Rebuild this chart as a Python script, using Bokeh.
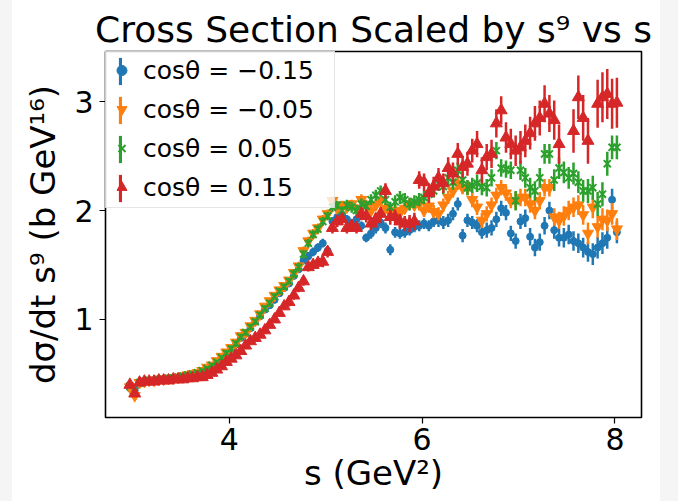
from bokeh.plotting import figure
from bokeh.models import Range1d, FixedTicker, Legend, LegendItem, Spacer, ColumnDataSource
from bokeh.layouts import row
from bokeh.embed import file_html
from bokeh.resources import INLINE

nan = float("nan")

s_values = [
    2.97, 3.02, 3.07, 3.12, 3.17, 3.22, 3.27, 3.32, 3.37, 3.42,
    3.47, 3.52, 3.57, 3.62, 3.67, 3.72, 3.77, 3.82, 3.87, 3.92,
    3.97, 4.02, 4.07, 4.12, 4.17, 4.22, 4.27, 4.32, 4.37, 4.42,
    4.47, 4.52, 4.57, 4.62, 4.67, 4.72, 4.77, 4.82, 4.87, 4.92,
    4.97, 5.02, 5.07, 5.12, 5.17, 5.22, 5.27, 5.32, 5.37, 5.42,
    5.47, 5.52, 5.57, 5.62, 5.67, 5.72, 5.77, 5.82, 5.87, 5.92,
    5.97, 6.02, 6.07, 6.12, 6.17, 6.22, 6.27, 6.32, 6.37, 6.42,
    6.47, 6.52, 6.57, 6.62, 6.67, 6.72, 6.77, 6.82, 6.87, 6.92,
    6.97, 7.02, 7.07, 7.12, 7.17, 7.22, 7.27, 7.32, 7.37, 7.42,
    7.47, 7.52, 7.57, 7.62, 7.67, 7.72, 7.77, 7.82, 7.87, 7.92,
    7.97, 8.02,
]

# cos(theta) = -0.15
blue_y = [
    0.37, 0.35, 0.41, 0.43, 0.43, 0.44, 0.44, 0.45, 0.45, 0.46,
    0.46, 0.47, 0.48, 0.49, 0.50, 0.52, 0.54, 0.57, 0.60, 0.64,
    0.68, 0.72, 0.77, 0.83, 0.87, 0.92, 0.98, 1.03, 1.09, 1.13,
    1.18, 1.24, 1.29, 1.33, 1.40, 1.46, 1.54, 1.58, 1.62, 1.66,
    1.70, 1.63, 1.90, 1.94, 1.96, 1.92, 1.88, 1.92, 1.86, 1.75,
    1.79, 1.84, 1.89, 1.84, 1.64, 1.80, 1.79, 1.80, 1.82, 1.85,
    1.86, 1.88, 1.86, 1.90, 1.91, 1.89, 1.91, 1.97, 2.06, 1.77,
    1.91, 1.89, 1.86, 1.80, 1.82, 1.84, 1.92, 2.02, 1.98, 1.79,
    1.72, 1.90, 1.93, 1.76, 1.66, 1.71, 1.86, 2.00, 1.82, 1.75,
    1.75, 1.78, 1.72, 1.70, 1.66, 1.62, 1.60, 1.66, 1.70, 1.75,
    2.10, 1.80,
]
blue_err = [
    0.02, 0.02, 0.02, 0.02, 0.02, 0.02, 0.02, 0.02, 0.02, 0.02,
    0.02, 0.02, 0.02, 0.02, 0.02, 0.02, 0.02, 0.02, 0.02, 0.02,
    0.03, 0.03, 0.03, 0.03, 0.03, 0.03, 0.03, 0.03, 0.03, 0.03,
    0.03, 0.03, 0.03, 0.03, 0.03, 0.03, 0.03, 0.04, 0.04, 0.04,
    0.04, 0.04, 0.04, 0.04, 0.04, 0.04, 0.04, 0.04, 0.04, 0.04,
    0.05, 0.05, 0.05, 0.05, 0.05, 0.05, 0.05, 0.05, 0.05, 0.05,
    0.05, 0.05, 0.05, 0.05, 0.06, 0.06, 0.06, 0.06, 0.06, 0.06,
    0.06, 0.06, 0.06, 0.06, 0.07, 0.07, 0.07, 0.07, 0.07, 0.07,
    0.07, 0.07, 0.08, 0.08, 0.08, 0.08, 0.08, 0.08, 0.08, 0.08,
    0.09, 0.09, 0.09, 0.09, 0.09, 0.09, 0.10, 0.10, 0.10, 0.10,
    0.10, 0.10,
]

# cos(theta) = -0.05
orange_y = [
    0.38, 0.30, 0.42, 0.43, 0.44, 0.44, 0.45, 0.45, 0.46, 0.46,
    0.47, 0.48, 0.49, 0.50, 0.51, 0.53, 0.56, 0.58, 0.62, 0.66,
    0.70, 0.74, 0.79, 0.85, 0.88, 0.94, 0.99, 1.05, 1.12, 1.17,
    1.22, 1.27, 1.31, 1.36, 1.43, 1.49, 1.63, 1.72, 1.79, 1.84,
    1.92, 1.97, 2.09, 2.02, 2.05, 2.03, 2.06, 2.02, 2.10, 2.05,
    2.00, 2.05, 2.09, 2.02, 1.98, 2.00, 1.98, 2.02, 2.06, 2.05,
    2.06, 2.00, 2.04, 1.99, 1.97, 2.05, 2.12, 2.18, 2.25, 2.21,
    2.21, 2.10, 2.03, 1.91, 1.97, 2.05, 2.14, 2.21, 2.16, 2.09,
    2.09, 2.12, 2.12, 2.06, 2.00, 2.09, 2.21, 2.21, 1.94, 1.91,
    1.95, 2.00, 2.03, 2.05, 1.96, 1.79, 2.03, 1.85, 1.92, 1.91,
    1.97, 1.83,
]
orange_err = [
    0.02, 0.02, 0.02, 0.02, 0.02, 0.02, 0.02, 0.02, 0.02, 0.02,
    0.02, 0.02, 0.02, 0.02, 0.02, 0.02, 0.02, 0.02, 0.02, 0.02,
    0.03, 0.03, 0.03, 0.03, 0.03, 0.03, 0.03, 0.03, 0.03, 0.03,
    0.03, 0.03, 0.03, 0.03, 0.03, 0.04, 0.04, 0.04, 0.04, 0.04,
    0.04, 0.04, 0.04, 0.04, 0.04, 0.04, 0.04, 0.04, 0.05, 0.05,
    0.05, 0.05, 0.05, 0.05, 0.05, 0.05, 0.05, 0.05, 0.05, 0.05,
    0.06, 0.06, 0.06, 0.06, 0.06, 0.06, 0.06, 0.06, 0.06, 0.06,
    0.07, 0.07, 0.07, 0.07, 0.07, 0.07, 0.07, 0.07, 0.07, 0.07,
    0.08, 0.08, 0.08, 0.08, 0.08, 0.08, 0.08, 0.08, 0.08, 0.08,
    0.09, 0.09, 0.09, 0.09, 0.09, 0.10, 0.10, 0.10, 0.10, 0.10,
    0.10, 0.10,
]

# cos(theta) = 0.05
green_y = [
    0.39, 0.34, 0.42, 0.43, 0.44, 0.44, 0.45, 0.45, 0.46, 0.46,
    0.47, 0.48, 0.49, 0.50, 0.51, 0.53, 0.55, 0.58, 0.61, 0.65,
    0.69, 0.73, 0.78, 0.84, 0.88, 0.93, 0.98, 1.04, 1.10, 1.15,
    1.21, 1.26, 1.30, 1.35, 1.42, 1.48, 1.60, 1.70, 1.78, 1.83,
    1.90, 1.95, 2.03, 2.05, 2.00, 2.05, 2.03, 2.00, 2.06, 2.04,
    2.10, 2.14, 2.18, 2.10, 2.03, 2.08, 2.12, 2.10, 2.06, 2.08,
    2.10, 2.12, 2.15, 2.18, 2.25, 2.22, 2.30, 2.26, 2.37, 2.28,
    2.21, 2.23, 2.25, 2.22, 2.21, 2.30, 2.55, 2.39, 2.38, 2.37,
    2.09, 2.37, 2.30, 2.21, 2.18, 2.30, 2.52, 2.52, 2.28, 2.39,
    2.35, 2.30, 2.34, 2.26, 2.18, 2.18, 2.21, 2.06, 2.15, 2.43,
    2.58, 2.58,
]
green_err = [
    0.02, 0.02, 0.02, 0.02, 0.02, 0.02, 0.02, 0.02, 0.02, 0.02,
    0.02, 0.02, 0.02, 0.02, 0.02, 0.02, 0.02, 0.02, 0.02, 0.02,
    0.03, 0.03, 0.03, 0.03, 0.03, 0.03, 0.03, 0.03, 0.03, 0.03,
    0.03, 0.03, 0.03, 0.03, 0.04, 0.04, 0.04, 0.04, 0.04, 0.04,
    0.04, 0.04, 0.04, 0.04, 0.04, 0.05, 0.05, 0.05, 0.05, 0.05,
    0.05, 0.05, 0.05, 0.05, 0.05, 0.06, 0.06, 0.06, 0.06, 0.06,
    0.06, 0.06, 0.06, 0.06, 0.07, 0.07, 0.07, 0.07, 0.07, 0.07,
    0.07, 0.07, 0.08, 0.08, 0.08, 0.08, 0.08, 0.08, 0.08, 0.08,
    0.09, 0.09, 0.09, 0.09, 0.09, 0.09, 0.09, 0.09, 0.10, 0.10,
    0.10, 0.10, 0.10, 0.10, 0.10, 0.11, 0.11, 0.11, 0.11, 0.11,
    0.11, 0.11,
]

# cos(theta) = 0.15
red_y = [
    0.40, 0.32, 0.42, 0.43, 0.43, 0.43, 0.44, 0.44, 0.44, 0.45,
    0.45, 0.45, 0.46, 0.46, 0.47, 0.47, 0.49, 0.51, 0.54, 0.57,
    0.61, 0.64, 0.67, 0.71, 0.76, 0.80, 0.83, 0.86, 0.90, 0.95,
    1.00, 1.06, 1.12, 1.16, 1.22, 1.29, 1.35, 1.48, 1.50, 1.52,
    1.53, 1.62, 1.84, 1.90, 1.92, 1.84, 1.86, 1.84, 1.97, 1.95,
    1.88, 1.92, 1.97, 2.18, 1.94, 1.94, 1.90, 1.88, 1.88, 1.90,
    2.28, 2.26, 2.16, 2.22, 2.30, 2.25, 2.39, 2.34, 2.52, 2.40,
    2.43, 2.55, 2.61, 2.37, 2.49, 2.52, 2.80, 2.92, 2.67, 2.61,
    2.55, 2.58, 2.64, 2.71, 2.80, 2.85, 2.98, 2.89, 2.83, 2.61,
    nan, nan, 2.73, 3.04, 2.85, 2.64, nan, 2.98, 3.04, 3.07,
    2.98, 2.99,
]
red_err = [
    0.02, 0.02, 0.02, 0.02, 0.02, 0.02, 0.02, 0.02, 0.02, 0.02,
    0.02, 0.02, 0.02, 0.02, 0.02, 0.02, 0.02, 0.02, 0.02, 0.02,
    0.03, 0.03, 0.03, 0.03, 0.03, 0.03, 0.03, 0.03, 0.03, 0.03,
    0.03, 0.03, 0.03, 0.04, 0.04, 0.04, 0.04, 0.04, 0.04, 0.04,
    0.05, 0.05, 0.05, 0.05, 0.05, 0.05, 0.05, 0.05, 0.06, 0.06,
    0.06, 0.06, 0.06, 0.07, 0.07, 0.07, 0.07, 0.07, 0.08, 0.08,
    0.08, 0.08, 0.09, 0.09, 0.09, 0.09, 0.10, 0.10, 0.10, 0.10,
    0.11, 0.11, 0.12, 0.12, 0.12, 0.13, 0.13, 0.13, 0.14, 0.14,
    0.14, 0.15, 0.15, 0.15, 0.16, 0.16, 0.17, 0.17, 0.18, 0.18,
    0.19, 0.19, 0.20, 0.20, 0.21, 0.21, 0.22, 0.22, 0.23, 0.23,
    0.23, 0.23,
]

series_labels = ["cosθ = −0.15", "cosθ = −0.05", "cosθ = 0.05", "cosθ = 0.15"]
series_colors = ["#1f77b4", "#ff7f0e", "#2ca02c", "#d62728"]
series_markers = ["circle", "inverted_triangle", "x", "triangle"]
series_sizes = [7, 11, 10, 12]
series_y = [blue_y, orange_y, green_y, red_y]
series_err = [blue_err, orange_err, green_err, red_err]

FONT = "DejaVu Sans"

p = figure(width=648, height=501, output_backend="svg", toolbar_location=None,
           x_range=Range1d(2.717, 8.275), y_range=Range1d(0.10, 3.46),
           min_border_left=93, min_border_right=19, min_border_top=51, min_border_bottom=84,
           background_fill_color="white", border_fill_color="white")

p.title.text = "Cross Section Scaled by s⁹ vs s"
p.title.align = "center"
p.title.text_font = FONT
p.title.text_font_size = "36px"
p.title.text_font_style = "normal"
p.title.text_color = "black"
p.title.standoff = 3

p.grid.visible = False
p.outline_line_color = "black"
p.outline_line_width = 1.6
p.outline_line_alpha = 1.0

p.xaxis.ticker = FixedTicker(ticks=[4, 6, 8])
p.yaxis.ticker = FixedTicker(ticks=[1, 2, 3])
p.axis.axis_line_color = None
p.axis.minor_tick_line_color = None
p.axis.major_tick_in = 0
p.axis.major_tick_out = 6
p.axis.major_tick_line_color = "black"
p.axis.major_tick_line_width = 1.2
p.axis.major_label_text_font = FONT
p.axis.major_label_text_font_size = "30px"
p.axis.major_label_text_color = "black"
p.axis.axis_label_text_font = FONT
p.axis.axis_label_text_font_size = "34px"
p.axis.axis_label_text_font_style = "normal"
p.axis.axis_label_text_color = "black"
p.xaxis.axis_label = "s (GeV²)"
p.yaxis.axis_label = "dσ/dt s⁹ (b GeV¹⁶)"
p.xaxis.major_label_standoff = 4
p.xaxis.axis_label_standoff = 0
p.yaxis.major_label_standoff = 6
p.yaxis.axis_label_standoff = 8

marker_items = []
bar_items = []
for lab, col, mk, sz, ys, es in zip(series_labels, series_colors, series_markers,
                                    series_sizes, series_y, series_err):
    lo = [y - e for y, e in zip(ys, es)]
    hi = [y + e for y, e in zip(ys, es)]
    src = ColumnDataSource(data=dict(s=s_values, y=ys, lo=lo, hi=hi))
    p.segment(x0="s", y0="lo", x1="s", y1="hi", source=src,
              line_color=col, line_width=2.5)
    r = p.scatter(x="s", y="y", source=src, marker=mk, size=sz,
                  fill_color=col, line_color=col, line_width=2 if mk == "x" else 1)
    marker_items.append(LegendItem(label=lab, renderers=[r]))
    # legend-only renderer (its single row holds no drawable value)
    vb = p.vbar(x=[nan], top=[nan], bottom=[nan], width=0.1, fill_color=col, line_color=None)
    bar_items.append(LegendItem(label=" ", renderers=[vb]))

leg_a = Legend(items=marker_items, location=(0, 209), margin=0, padding=3, spacing=5,
               glyph_width=25, glyph_height=34, label_height=34, label_width=188,
               label_standoff=9, label_text_font=FONT, label_text_font_size="25px",
               label_text_color="black", border_line_color="#cccccc", border_line_width=1,
               background_fill_color="white", background_fill_alpha=0.8)
leg_b = Legend(items=bar_items, location=(10, 209), margin=0, padding=3, spacing=5,
               glyph_width=4, glyph_height=34, label_height=34, label_width=1,
               label_standoff=0, label_text_font=FONT, label_text_font_size="25px",
               border_line_alpha=0, background_fill_alpha=0)
p.add_layout(leg_a)
p.add_layout(leg_b)

left_pad = Spacer(width=12, height=501, styles={"background-color": "#f5f5f5"})
right_pad = Spacer(width=18, height=501, styles={"background-color": "#f5f5f5"})
layout = row(left_pad, p, right_pad)

open("out.html", "w").write(file_html(layout, INLINE))
